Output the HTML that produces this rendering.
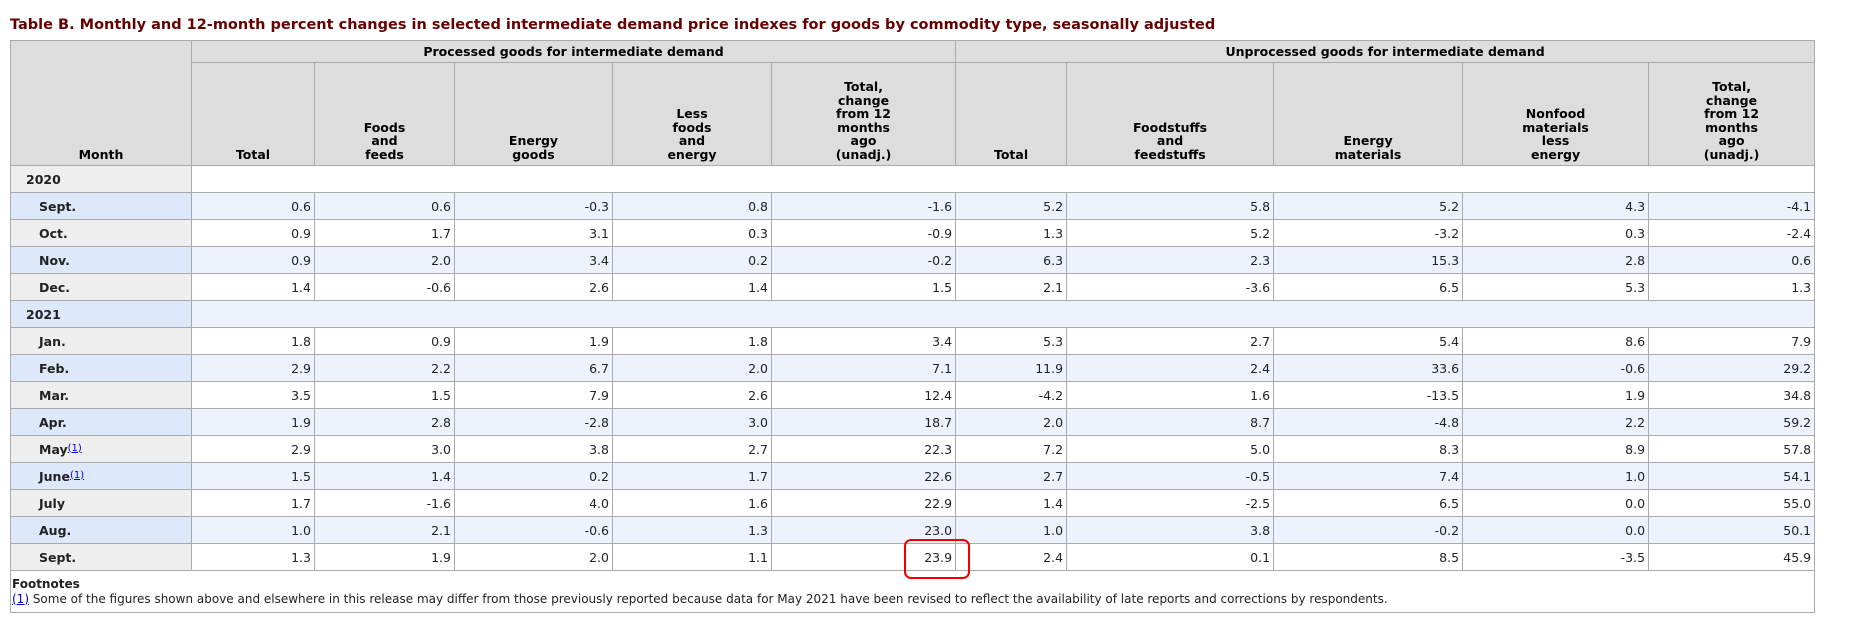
<!DOCTYPE html>
<html><head><meta charset="utf-8"><style>
body{margin:0;background:#fff;width:1851px;height:619px;overflow:hidden;font-family:"DejaVu Sans","Liberation Sans",sans-serif;color:#222}
.title{position:absolute;left:10px;top:17px;font-size:14.5px;font-weight:bold;color:#660000;white-space:nowrap}
table{position:absolute;left:10px;top:40px;border-collapse:collapse;table-layout:fixed;width:1804px}
td,th{border:1px solid #aaa;font-size:12.5px;padding:0 3px;box-sizing:border-box}
td{height:27px}
th{background:#ddd;font-weight:bold;color:#000;vertical-align:bottom;padding-bottom:4px;line-height:13.5px}
th.g{height:22px;vertical-align:middle;padding:0}
tr.h2 th{height:103px}
td{text-align:right}
td.m{text-align:left;font-weight:bold;padding-left:15px;background:#eee}
td.mm{padding-left:28px}
tr.b td{background:#eef2fd}
tr.b td.m{background:#dde8fb}
tr.w td{background:#fff}
tr.w td.m{background:#eee}
td.fn{text-align:left;background:#fff;height:42px;padding:2px 1px;font-size:12px;line-height:15px}
a{color:#00c}
sup{font-size:10px;vertical-align:3px;font-weight:normal}
.box{position:absolute;left:904px;top:539px;width:62px;height:36px;border:2.5px solid #e00;border-radius:7px}
</style></head><body>
<div class="title">Table B. Monthly and 12-month percent changes in selected intermediate demand price indexes for goods by commodity type, seasonally adjusted</div>
<table>
<colgroup><col style="width:181px"><col style="width:123px"><col style="width:140px"><col style="width:158px"><col style="width:159px"><col style="width:184px"><col style="width:111px"><col style="width:207px"><col style="width:189px"><col style="width:186px"><col style="width:166px"></colgroup>
<tr><th rowspan="2">Month</th><th class="g" colspan="5">Processed goods for intermediate demand</th><th class="g" colspan="5">Unprocessed goods for intermediate demand</th></tr>
<tr class="h2"><th>Total</th><th>Foods<br>and<br>feeds</th><th>Energy<br>goods</th><th>Less<br>foods<br>and<br>energy</th><th>Total,<br>change<br>from 12<br>months<br>ago<br>(unadj.)</th><th>Total</th><th>Foodstuffs<br>and<br>feedstuffs</th><th>Energy<br>materials</th><th>Nonfood<br>materials<br>less<br>energy</th><th>Total,<br>change<br>from 12<br>months<br>ago<br>(unadj.)</th></tr>
<tr class="w"><td class="m">2020</td><td colspan="10"></td></tr>
<tr class="b"><td class="m mm">Sept.</td><td>0.6</td><td>0.6</td><td>-0.3</td><td>0.8</td><td>-1.6</td><td>5.2</td><td>5.8</td><td>5.2</td><td>4.3</td><td>-4.1</td></tr>
<tr class="w"><td class="m mm">Oct.</td><td>0.9</td><td>1.7</td><td>3.1</td><td>0.3</td><td>-0.9</td><td>1.3</td><td>5.2</td><td>-3.2</td><td>0.3</td><td>-2.4</td></tr>
<tr class="b"><td class="m mm">Nov.</td><td>0.9</td><td>2.0</td><td>3.4</td><td>0.2</td><td>-0.2</td><td>6.3</td><td>2.3</td><td>15.3</td><td>2.8</td><td>0.6</td></tr>
<tr class="w"><td class="m mm">Dec.</td><td>1.4</td><td>-0.6</td><td>2.6</td><td>1.4</td><td>1.5</td><td>2.1</td><td>-3.6</td><td>6.5</td><td>5.3</td><td>1.3</td></tr>
<tr class="b"><td class="m">2021</td><td colspan="10"></td></tr>
<tr class="w"><td class="m mm">Jan.</td><td>1.8</td><td>0.9</td><td>1.9</td><td>1.8</td><td>3.4</td><td>5.3</td><td>2.7</td><td>5.4</td><td>8.6</td><td>7.9</td></tr>
<tr class="b"><td class="m mm">Feb.</td><td>2.9</td><td>2.2</td><td>6.7</td><td>2.0</td><td>7.1</td><td>11.9</td><td>2.4</td><td>33.6</td><td>-0.6</td><td>29.2</td></tr>
<tr class="w"><td class="m mm">Mar.</td><td>3.5</td><td>1.5</td><td>7.9</td><td>2.6</td><td>12.4</td><td>-4.2</td><td>1.6</td><td>-13.5</td><td>1.9</td><td>34.8</td></tr>
<tr class="b"><td class="m mm">Apr.</td><td>1.9</td><td>2.8</td><td>-2.8</td><td>3.0</td><td>18.7</td><td>2.0</td><td>8.7</td><td>-4.8</td><td>2.2</td><td>59.2</td></tr>
<tr class="w"><td class="m mm">May<sup><a href="#">(1)</a></sup></td><td>2.9</td><td>3.0</td><td>3.8</td><td>2.7</td><td>22.3</td><td>7.2</td><td>5.0</td><td>8.3</td><td>8.9</td><td>57.8</td></tr>
<tr class="b"><td class="m mm">June<sup><a href="#">(1)</a></sup></td><td>1.5</td><td>1.4</td><td>0.2</td><td>1.7</td><td>22.6</td><td>2.7</td><td>-0.5</td><td>7.4</td><td>1.0</td><td>54.1</td></tr>
<tr class="w"><td class="m mm">July</td><td>1.7</td><td>-1.6</td><td>4.0</td><td>1.6</td><td>22.9</td><td>1.4</td><td>-2.5</td><td>6.5</td><td>0.0</td><td>55.0</td></tr>
<tr class="b"><td class="m mm">Aug.</td><td>1.0</td><td>2.1</td><td>-0.6</td><td>1.3</td><td>23.0</td><td>1.0</td><td>3.8</td><td>-0.2</td><td>0.0</td><td>50.1</td></tr>
<tr class="w"><td class="m mm">Sept.</td><td>1.3</td><td>1.9</td><td>2.0</td><td>1.1</td><td>23.9</td><td>2.4</td><td>0.1</td><td>8.5</td><td>-3.5</td><td>45.9</td></tr>
<tr><td class="fn" colspan="11"><b>Footnotes</b><br><a href="#">(1)</a> Some of the figures shown above and elsewhere in this release may differ from those previously reported because data for May 2021 have been revised to reflect the availability of late reports and corrections by respondents.</td></tr>
</table>
<div class="box"></div>
</body></html>
